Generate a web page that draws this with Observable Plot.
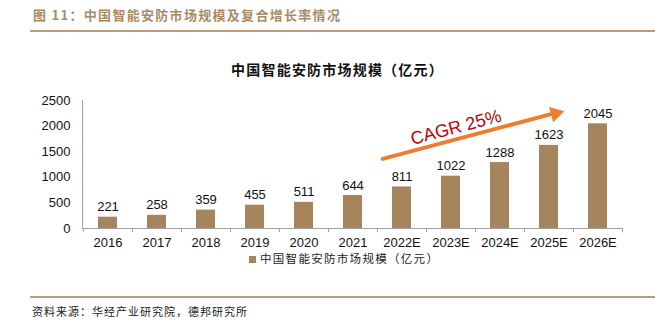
<!DOCTYPE html>
<html><head><meta charset="utf-8">
<script src="https://cdn.jsdelivr.net/npm/d3@7"></script>
<script src="https://cdn.jsdelivr.net/npm/@observablehq/plot@0.6"></script>
<style>
body{margin:0;background:#fff;}
#wrap{position:relative;width:655px;height:324px;overflow:hidden;font-family:"Liberation Sans",Arial,sans-serif;background:#fff;}
.title{position:absolute;left:33px;top:6px;font-weight:bold;font-size:13px;font-family:"Noto Sans CJK SC",sans-serif;color:#a98a66;letter-spacing:1.3px;white-space:nowrap;line-height:18px;}
.rule{position:absolute;left:30px;width:625px;height:2px;background:#b99b7a;}
.ctitle{position:absolute;left:20px;width:635px;top:59px;text-align:center;font-weight:bold;font-size:14px;font-family:"Noto Sans CJK SC",sans-serif;color:#111;letter-spacing:1.2px;line-height:20px;}
#chart{position:absolute;left:0;top:85px;}
.legend{position:absolute;left:249px;top:250px;font-size:11.5px;font-family:"Noto Sans CJK SC",sans-serif;color:#222;letter-spacing:1.3px;white-space:nowrap;line-height:17px;}
.legend .sw{display:inline-block;width:7px;height:7px;background:#a6855c;margin-right:4px;vertical-align:0px;}
.source{position:absolute;left:32px;top:303px;font-size:11px;font-family:"Noto Sans CJK SC",sans-serif;color:#222;letter-spacing:1px;white-space:nowrap;line-height:16px;}
</style>
</head><body>
<div id="wrap">
  <div class="title" id="title"></div>
  <div class="rule" style="top:30px"></div>
  <div class="ctitle" id="ctitle"></div>
  <div id="chart"></div>
  <div class="legend"><span class="sw"></span><span id="legtext"></span></div>
  <div class="rule" style="top:296px"></div>
  <div class="source" id="source"></div>
</div>
<script>
const years = ["2016","2017","2018","2019","2020","2021","2022E","2023E","2024E","2025E","2026E"];
const values = [221,258,359,455,511,644,811,1022,1288,1623,2045];
const yTicks = [0,500,1000,1500,2000,2500];
const figTitle = "图 11：中国智能安防市场规模及复合增长率情况";
const chartTitle = "中国智能安防市场规模（亿元）";
const seriesName = "中国智能安防市场规模（亿元）";
const sourceText = "资料来源：华经产业研究院，德邦研究所";
const cagrLabel = "CAGR 25%";
const arrowStart = {x:"2022E", y:1461};
const arrowEnd = {x:"2025E", y:2223};
const arrowHead = {x:"2025E", y:2246};
const cagrPos = {x:"2023E", y:1973};

document.getElementById("title").textContent = figTitle;
document.getElementById("ctitle").textContent = chartTitle;
document.getElementById("legtext").textContent = seriesName;
document.getElementById("source").textContent = sourceText;

const data = years.map((y,i)=>({year:y, value:values[i]}));
const W = 655, H = 170, ML = 82, MR = 33;
const bw = (W - ML - MR) / years.length;
const orange = "#ed7d31";

const chart = Plot.plot({
  width: W, height: H,
  marginTop: 15, marginBottom: 27, marginLeft: ML, marginRight: MR,
  style: {fontFamily: "'Liberation Sans', Arial, sans-serif", background: "transparent"},
  x: {domain: years, padding: 0},
  y: {domain: [0, 2500]},
  marks: [
    Plot.barY(data, {x: "year", y: "value", fill: "#a6855c", insetLeft: 15, insetRight: 15}),
    Plot.ruleY([0], {stroke: "#a0a0a0"}),
    Plot.frame({anchor: "left", stroke: "#a0a0a0"}),
    Plot.ruleX(years, {x: d => d, y1: 0, y2: -80, dx: -bw/2, stroke: "#a0a0a0"}),
    Plot.ruleX([years[years.length-1]], {x: d => d, y1: 0, y2: -80, dx: bw/2, stroke: "#a0a0a0"}),
    Plot.axisY({ticks: yTicks, tickFormat: d => String(d), tickSize: 0, tickPadding: 12, fontSize: 13, fill: "#111", label: null}),
    Plot.axisX({tickSize: 0, tickPadding: 9, fontSize: 13, fill: "#111", label: null}),
    Plot.text(data, {x: "year", y: "value", text: d => String(d.value), lineAnchor: "bottom", dy: -6, fontSize: 13, fill: "#111"}),
    Plot.arrow([{x1: arrowStart.x, y1: arrowStart.y, x2: arrowEnd.x, y2: arrowEnd.y}],
      {x1: "x1", y1: "y1", x2: "x2", y2: "y2", stroke: orange, strokeWidth: 4, headLength: 0, insetStart: -20, insetEnd: -3}),
    Plot.dot([arrowHead], {x: "x", y: "y", symbol: "triangle", r: 5.2, fill: orange, stroke: orange, strokeWidth: 1, rotate: 75.2, dx: 6.6}),
    Plot.text([cagrPos], {x: "x", y: "y", text: () => cagrLabel, rotate: -14.8, fontSize: 18, fill: "#c00000", dx: 5})
  ]
});
document.getElementById("chart").appendChild(chart);
</script>
</body></html>
